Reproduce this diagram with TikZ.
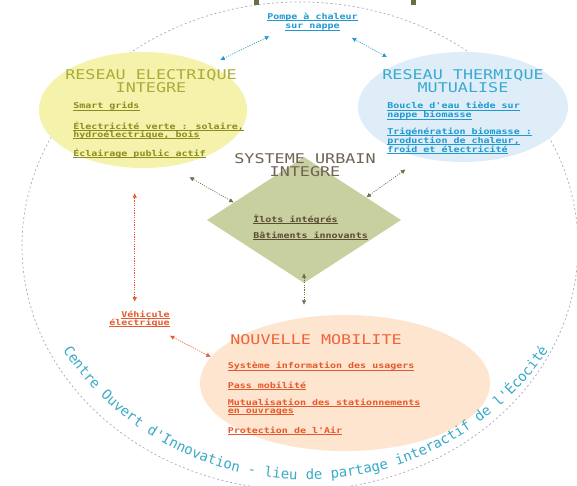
\documentclass[tikz,border=0pt]{standalone}
\usepackage{fontspec}
\usetikzlibrary{positioning,arrows.meta,shapes.geometric,decorations.text}
\newfontfamily\headfont[FakeStretch=1.25]{DejaVu Sans Mono}
\newfontfamily\ringfont{DejaVu Sans Mono}
\definecolor{elecFill}{HTML}{F5F2AC}
\definecolor{elecHead}{HTML}{A9AD37}
\definecolor{elecText}{HTML}{8C8C1E}
\definecolor{thermFill}{HTML}{DEEDF7}
\definecolor{thermHead}{HTML}{3BAAD0}
\definecolor{thermText}{HTML}{1E9AD0}
\definecolor{urbFill}{HTML}{C9D0A0}
\definecolor{urbHead}{HTML}{6F6355}
\definecolor{urbText}{HTML}{5B4B33}
\definecolor{urbArr}{HTML}{6E6B48}
\definecolor{mobFill}{HTML}{FDE5D0}
\definecolor{mobHead}{HTML}{F0643A}
\definecolor{mobText}{HTML}{E8582A}
\definecolor{ringText}{HTML}{3AAAC8}
\definecolor{ringLine}{HTML}{A8AABD}
% underlined entry, same rule depth on every line
\newcommand{\lnk}[1]{\setbox0=\hbox{#1}\rlap{\rule[-1.4pt]{\wd0}{0.5pt}}\box0}

\begin{document}
\begin{tikzpicture}[x=1pt, y=1pt, >=Latex, node distance=6pt and 8pt,
    blob/.style={ellipse, inner sep=0pt},
    head/.style={font=\headfont\fontsize{13.4}{13}\selectfont, align=center, inner sep=0pt},
    items/.style={font=\headfont\bfseries\fontsize{8}{8}\selectfont, align=left, inner sep=0pt},
    darr/.style={{Latex[length=4.5pt,width=4.5pt]}-{Latex[length=4.5pt,width=4.5pt]}, dash pattern=on 1.2pt off 1.2pt, line width=0.6pt},
    ringline/.style={draw=ringLine, dash pattern=on 2pt off 2.5pt, line width=0.7pt}]
  \useasboundingbox (0,0) rectangle (577,-485);
  \clip (0,0) rectangle (577,-485);
  \fill[white] (0,0) rectangle (577,-485);

  % outer ring
  \draw[ringline] (300,-246) ellipse [x radius=278, y radius=244];
  \fill[urbArr] (253.5,0) rectangle (258.5,-5);
  \fill[urbArr] (411,0) rectangle (416,-5);

  % blobs
  \node[blob, fill=elecFill, minimum width=208pt, minimum height=116pt] (elec) at (143,-110) {};
  \node[blob, fill=thermFill, minimum width=210pt, minimum height=110pt] (therm) at (463,-107) {};
  \node[diamond, fill=urbFill, minimum width=194pt, minimum height=126pt, inner sep=0pt] (urbain) at (304,-220) {};
  \node[blob, fill=mobFill, minimum width=290pt, minimum height=136pt] (mobil) at (345,-383) {};

  % titles and entries
  \node[head, text=elecHead] (elecT) at (151,-81.5) {RESEAU ELECTRIQUE\\INTEGRE};
  \node[items, text=elecText, below right=9pt and 8pt of elecT.south west] (elecL)
    {\lnk{Smart grids}\\[10pt] \lnk{Électricité verte : solaire,}\\ \lnk{hydroélectrique, bois}\\[9pt] \lnk{Éclairage public actif}};

  \node[head, text=thermHead] (thermT) at (463,-81.5) {RESEAU THERMIQUE\\MUTUALISE};
  \node[items, text=thermText, below right=9pt and 5pt of thermT.south west] (thermL)
    {\lnk{Boucle d'eau tiède sur}\\[1pt] \lnk{nappe biomasse}\\[7pt] \lnk{Trigénération biomasse :}\\ \lnk{production de chaleur,}\\ \lnk{froid et électricité}};

  \node[head, text=urbHead] (urbT) at (305,-165) {SYSTEME URBAIN\\INTEGRE};
  \node[items, text=urbText, below right=38pt and 19pt of urbT.south west] (urbL)
    {\lnk{Îlots intégrés}\\[7pt] \lnk{Bâtiments innovants}};

  \node[head, text=mobHead] (mobT) at (316,-340) {NOUVELLE MOBILITE};
  \node[items, text=mobText, below right=17pt and -2.5pt of mobT.south west] (mobL)
    {\lnk{Système information des usagers}\\[10pt] \lnk{Pass mobilité}\\[9pt] \lnk{Mutualisation des stationnements}\\ \lnk{en ouvrages}\\[11pt] \lnk{Protection de l'Air}};

  \node[items, align=center, text=thermText] (pompe) at (312.5,-21.5) {\lnk{Pompe à chaleur}\\[1.5pt] \lnk{sur nappe}};
  \node[items, align=right, text=mobText] (vehic) at (139.5,-319) {\lnk{Véhicule}\\ \lnk{électrique}};

  % links
  \draw[darr, thermText, shorten <=13pt, shorten >=12pt] (pompe.196) -- (elec.34);
  \draw[darr, thermText, shorten <=15pt, shorten >=13pt] (pompe.-19) -- (therm.146);
  \draw[darr, urbArr, shorten >=22pt] (urbain.166) -- (elec.-64);
  \draw[darr, urbArr, shorten >=20pt] (urbain.20) -- (therm.231);
  \draw[darr, urbArr, shorten <=-10pt, shorten >=10pt] (urbain.south) -- (urbain.south |- mobil.north);
  \draw[darr, mobText, shorten <=9pt, shorten >=25pt] (vehic.120) -- (vehic.120 |- elec.south);
  \draw[darr, mobText, shorten <=18pt] (vehic.-30) -- (mobil.169);

  % ring caption
  \path[decorate, decoration={text along path, text align=center, text color=ringText,
      text={|\ringfont\fontsize{14}{14}\selectfont|Centre Ouvert d'Innovation - lieu de partage interactif de l'Écocité}}]
    (305.6,-187.8) ++(205:292) arc[start angle=205, end angle=335, radius=292];
\end{tikzpicture}
\end{document}
